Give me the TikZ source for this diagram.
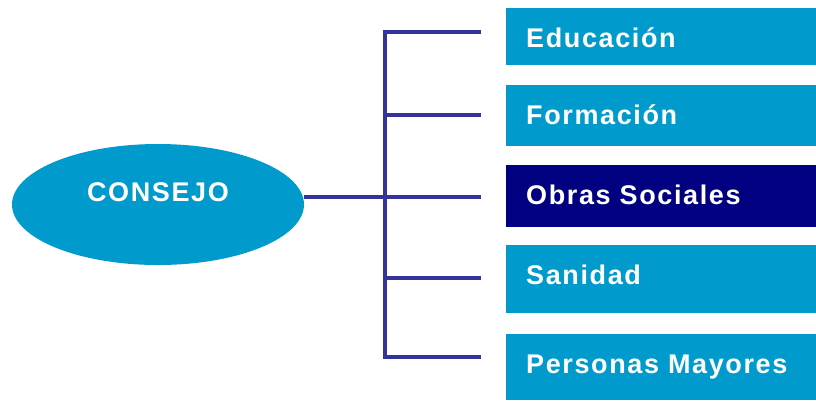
\documentclass[tikz,border=0pt]{standalone}
\usepackage{fontspec}
\usepackage{tikz}
\usetikzlibrary{shapes.geometric, positioning}
\newfontfamily\rotulo{Liberation Sans}[LetterSpace=6]
\definecolor{azul}{RGB}{0,155,204}
\definecolor{marino}{RGB}{0,0,128}
\definecolor{morado}{RGB}{51,51,153}
\tikzstyle{consejo} = [ellipse, minimum width=292pt, minimum height=121pt, inner sep=0pt, fill=azul, text=white, font=\rotulo\bfseries\fontsize{27}{31}\selectfont, text height=19pt, text depth=26pt]
\tikzstyle{area} = [rectangle, anchor=north west, text width=270pt, inner xsep=20pt, inner ysep=0pt, text height=39pt, align=left, fill=azul, text=white, font=\rotulo\bfseries\fontsize{27}{31}\selectfont]
\tikzstyle{linea} = [line width=4pt, draw=morado]

\begin{document}
\begin{tikzpicture}[x=1pt, y=-1pt]
		\useasboundingbox (0,0) rectangle (816,400);
		
		% Nodes
		\node (cons) [consejo] at (158,204.5) {CONSEJO};
		\node (educacion) [area, text depth=18pt] at (506,8) {Educación};
		\node (formacion) [area, text depth=22pt] at (506,85) {Formación};
		\node (obras) [area, text depth=23pt, fill=marino] at (506,165) {Obras Sociales};
		\node (sanidad) [area, text depth=29pt] at (506,245) {Sanidad};
		\node (mayores) [area, text depth=27pt] at (506,334) {Personas Mayores};
		
		% Trunk and branch ends
		\coordinate (t1) at (385,32);
		\coordinate (t2) at (385,115);
		\coordinate (t3) at (385,197);
		\coordinate (t4) at (385,278);
		\coordinate (t5) at (385,357);
		\coordinate (f1) at (481,32);
		\coordinate (f2) at (481,115);
		\coordinate (f3) at (481,197);
		\coordinate (f4) at (481,278);
		\coordinate (f5) at (481,357);
		
		% Lines
		\draw [linea] (f1) -- (t1) -- (t5) -- (f5);
		\draw [linea] (t2) -- (f2);
		\draw [linea] (t3) -- (f3);
		\draw [linea] (t4) -- (f4);
		\draw [linea] (cons.east |- t3) -- (t3);
		
	\end{tikzpicture}
\end{document}
